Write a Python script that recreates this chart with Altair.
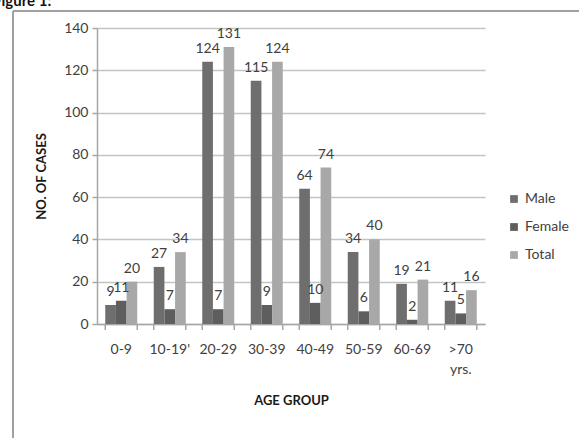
import altair as alt
import pandas as pd

# Age groups and case counts by sex
groups = ["0-9", "10-19'", "20-29", "30-39", "40-49", "50-59", "60-69", ">70 yrs."]
male = [9, 27, 124, 115, 64, 34, 19, 11]
female = [11, 7, 7, 9, 10, 6, 2, 5]
total = [20, 34, 131, 124, 74, 40, 21, 16]
series = ["Male", "Female", "Total"]
series_colors = ["#6e6e6e", "#5e5e5e", "#a8a8a8"]
y_ticks = [0, 20, 40, 60, 80, 100, 120, 140]

rows = []
for i, g in enumerate(groups):
    for s, vals in zip(series, [male, female, total]):
        rows.append({"group": g, "series": s, "cases": vals[i]})
df = pd.DataFrame(rows)

FONT = "Lato"
TXT = "#404040"
W, H = 388, 296

x_enc = alt.X(
    "group:N",
    sort=groups,
    scale=alt.Scale(paddingInner=0.34, paddingOuter=0.17),
    axis=alt.Axis(
        title="AGE GROUP",
        labelAngle=0,
        labelExpr="split(datum.label, ' ')",
        labelFont=FONT,
        labelFontSize=14,
        labelColor=TXT,
        labelPadding=18,
        labelLineHeight=20,
        ticks=False,
        domainColor="#a6a6a6",
        domainWidth=1.5,
        titleFont=FONT,
        titleFontSize=13,
        titleFontWeight="bold",
        titleColor="#1a1a1a",
        titlePadding=18,
    ),
)

y_enc = alt.Y(
    "cases:Q",
    scale=alt.Scale(domain=[0, 140], nice=False),
    axis=alt.Axis(
        title="NO. OF CASES",
        values=y_ticks,
        labelFont=FONT,
        labelFontSize=14,
        labelColor=TXT,
        labelPadding=4,
        tickSize=5,
        tickColor="#a6a6a6",
        tickWidth=1.5,
        domainColor="#a6a6a6",
        domainWidth=1.5,
        gridColor="#c4c4c4",
        gridWidth=1.5,
        titleFont=FONT,
        titleFontSize=13,
        titleFontWeight="bold",
        titleColor="#1a1a1a",
        titlePadding=15,
    ),
)

base = alt.Chart(df)

bars = base.mark_bar().encode(
    x=x_enc,
    xOffset=alt.XOffset("series:N", sort=series, scale=alt.Scale(paddingInner=0.0)),
    y=y_enc,
    color=alt.Color(
        "series:N",
        sort=series,
        scale=alt.Scale(domain=series, range=series_colors),
        legend=alt.Legend(
            title=None,
            orient="none",
            legendX=410,
            legendY=164,
            symbolType="square",
            symbolSize=60,
            symbolStrokeWidth=0,
            labelFont=FONT,
            labelFontSize=14,
            labelColor=TXT,
            rowPadding=14,
            labelOffset=4,
        ),
    ),
)

labels = base.mark_text(
    font=FONT, fontSize=14, color=TXT, baseline="bottom", dy=-6
).encode(
    x=alt.X("group:N", sort=groups),
    xOffset=alt.XOffset("series:N", sort=series),
    y="cases:Q",
    text="cases:Q",
)

# Category separators under the x axis
tick_df = pd.DataFrame({"group": groups})
sep_left = alt.Chart(tick_df).mark_rule(color="#a6a6a6", strokeWidth=1.5).encode(
    x=alt.X("group:N", sort=groups, bandPosition=0),
    y=alt.value(H),
    y2=alt.value(H + 6),
)
sep_right = alt.Chart(tick_df).mark_rule(color="#a6a6a6", strokeWidth=1.5).encode(
    x=alt.X("group:N", sort=groups, bandPosition=1),
    y=alt.value(H),
    y2=alt.value(H + 6),
)

# Outer frame of the figure
frame_top = alt.Chart(tick_df).mark_rule(color="#a0a0a0", strokeWidth=2).encode(
    x=alt.value(-84), x2=alt.value(W + 100), y=alt.value(-17)
)
frame_left = alt.Chart(tick_df).mark_rule(color="#a0a0a0", strokeWidth=2).encode(
    x=alt.value(-84), y=alt.value(-17), y2=alt.value(H + 130)
)
caption = alt.Chart(pd.DataFrame({"t": ["Figure 1:"]})).mark_text(
    font=FONT, fontSize=15, fontWeight="bold", color="#111111",
    align="left", baseline="alphabetic",
).encode(x=alt.value(-104), y=alt.value(-22), text="t:N")

chart = (
    alt.layer(bars, labels, sep_left, sep_right, frame_top, frame_left, caption)
    .properties(
        width=W,
        height=H,
        padding={"left": 97, "top": 28, "right": 94, "bottom": 114},
        autosize=alt.AutoSizeParams(type="none"),
        background="white",
    )
    .configure_view(stroke=None)
)

chart.save("out.html", embed_options={"renderer": "svg", "actions": False})
